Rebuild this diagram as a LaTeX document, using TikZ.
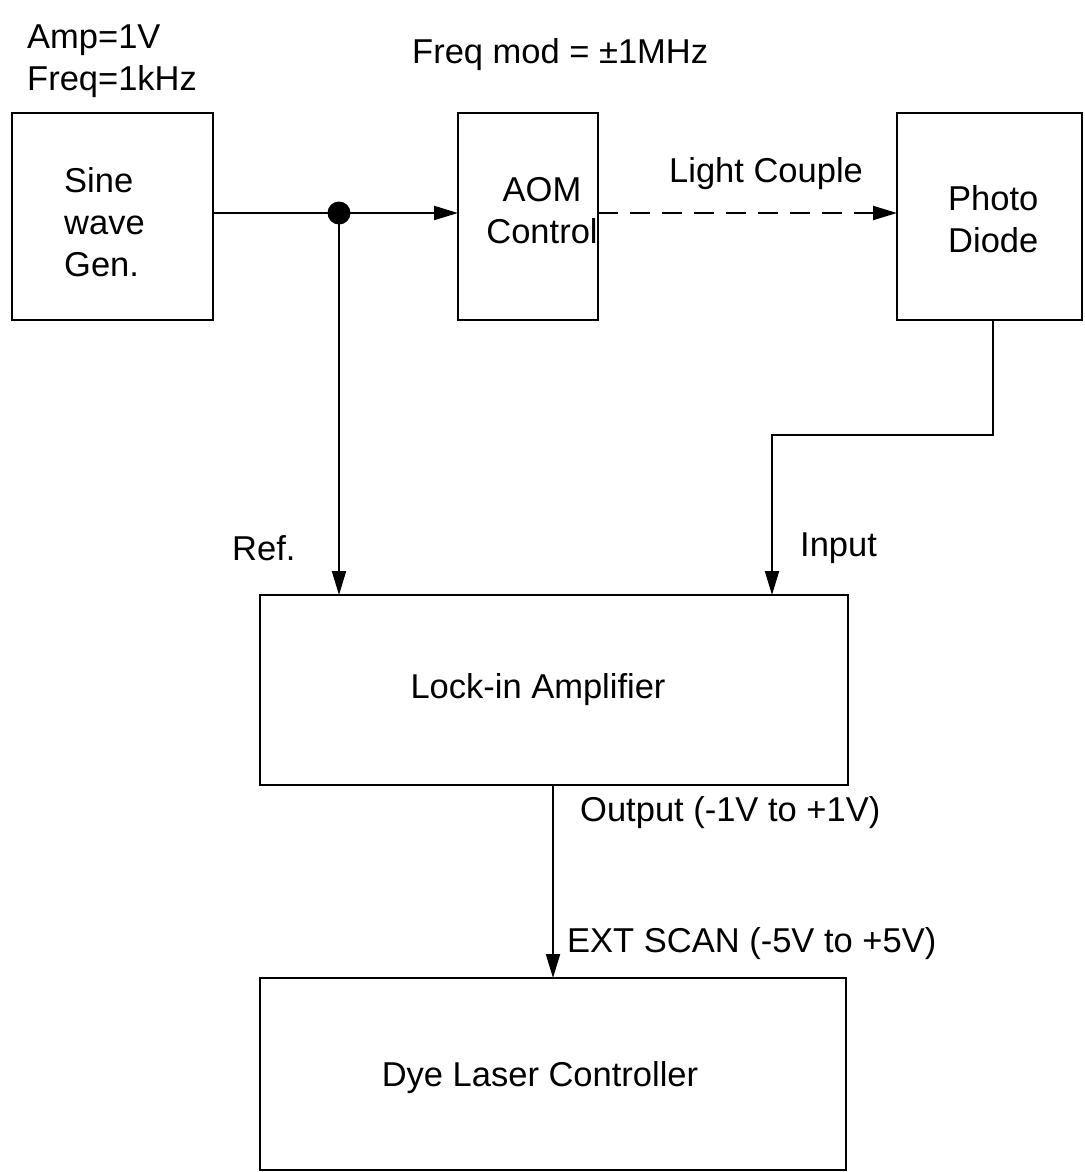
\documentclass[tikz,border=0pt]{standalone}
\usepackage{fontspec}
\setmainfont{Liberation Sans}
\usetikzlibrary{arrows.meta}
\begin{document}
\begin{tikzpicture}[x=1pt,y=-1pt,
  every node/.style={font=\fontsize{34.5}{42}\selectfont, inner sep=0pt},
  blk/.style={draw, line width=2pt},
  wire/.style={line width=2pt},
  arr/.style={wire, -{Triangle[length=24pt,width=14pt]}},
  lbl/.style={anchor=west}]
\useasboundingbox (0,0) rectangle (1084,1172);
% boxes
\draw[blk] (12,113) rectangle (213,320);
\node[align=left, anchor=west] (sine) at (64,222) {Sine\\wave\\Gen.};
\coordinate (sineR) at (213,213);
\draw[blk] (458,113) rectangle (598,320);
\node[align=center] (aom) at (542,211) {AOM\\Control};
\coordinate (aomL) at (458,213);
\coordinate (aomR) at (598,213);
\draw[blk] (897,113) rectangle (1082,320);
\node[align=left, anchor=west] (pd) at (948,219) {Photo\\Diode};
\coordinate (pdL) at (897,213);
\coordinate (pdB) at (993,320);
\draw[blk] (260,595) rectangle (848,785);
\node (lia) at (538,690) {Lock-in Amplifier};
\coordinate (liaRef) at (339,595);
\coordinate (liaIn) at (772,595);
\coordinate (liaB) at (553,785);
\draw[blk] (260,978) rectangle (846,1170);
\node (dye) at (540,1078) {Dye Laser Controller};
\coordinate (dyeT) at (553,978);
% labels
\node[align=left, anchor=west] (amp) at (27,61) {Amp=1V\\Freq=1kHz};
\node[lbl] (fm) at (412,55) {Freq mod = ±1MHz};
\node[lbl] (lc) at (669,174) {Light Couple};
\node[lbl] (ref) at (232,548) {Ref.};
\node[lbl] (inp) at (800,548) {Input};
\node[lbl] (out) at (580,813) {Output (-1V to +1V)};
\node[lbl] (ext) at (567,944) {EXT SCAN (-5V to +5V)};
% connectors
\coordinate (dot) at (339,213);
\draw[wire] (sineR) -- (dot);
\draw[arr] (dot) -- (aomL);
\fill (dot) circle (11.5);
\draw[arr, dash pattern=on 20pt off 12pt] (aomR) -- (pdL);
\draw[arr] (dot) -- (liaRef);
\draw[arr] (pdB) |- (772,435) -- (liaIn);
\draw[arr] (liaB) -- (dyeT);
\end{tikzpicture}
\end{document}
